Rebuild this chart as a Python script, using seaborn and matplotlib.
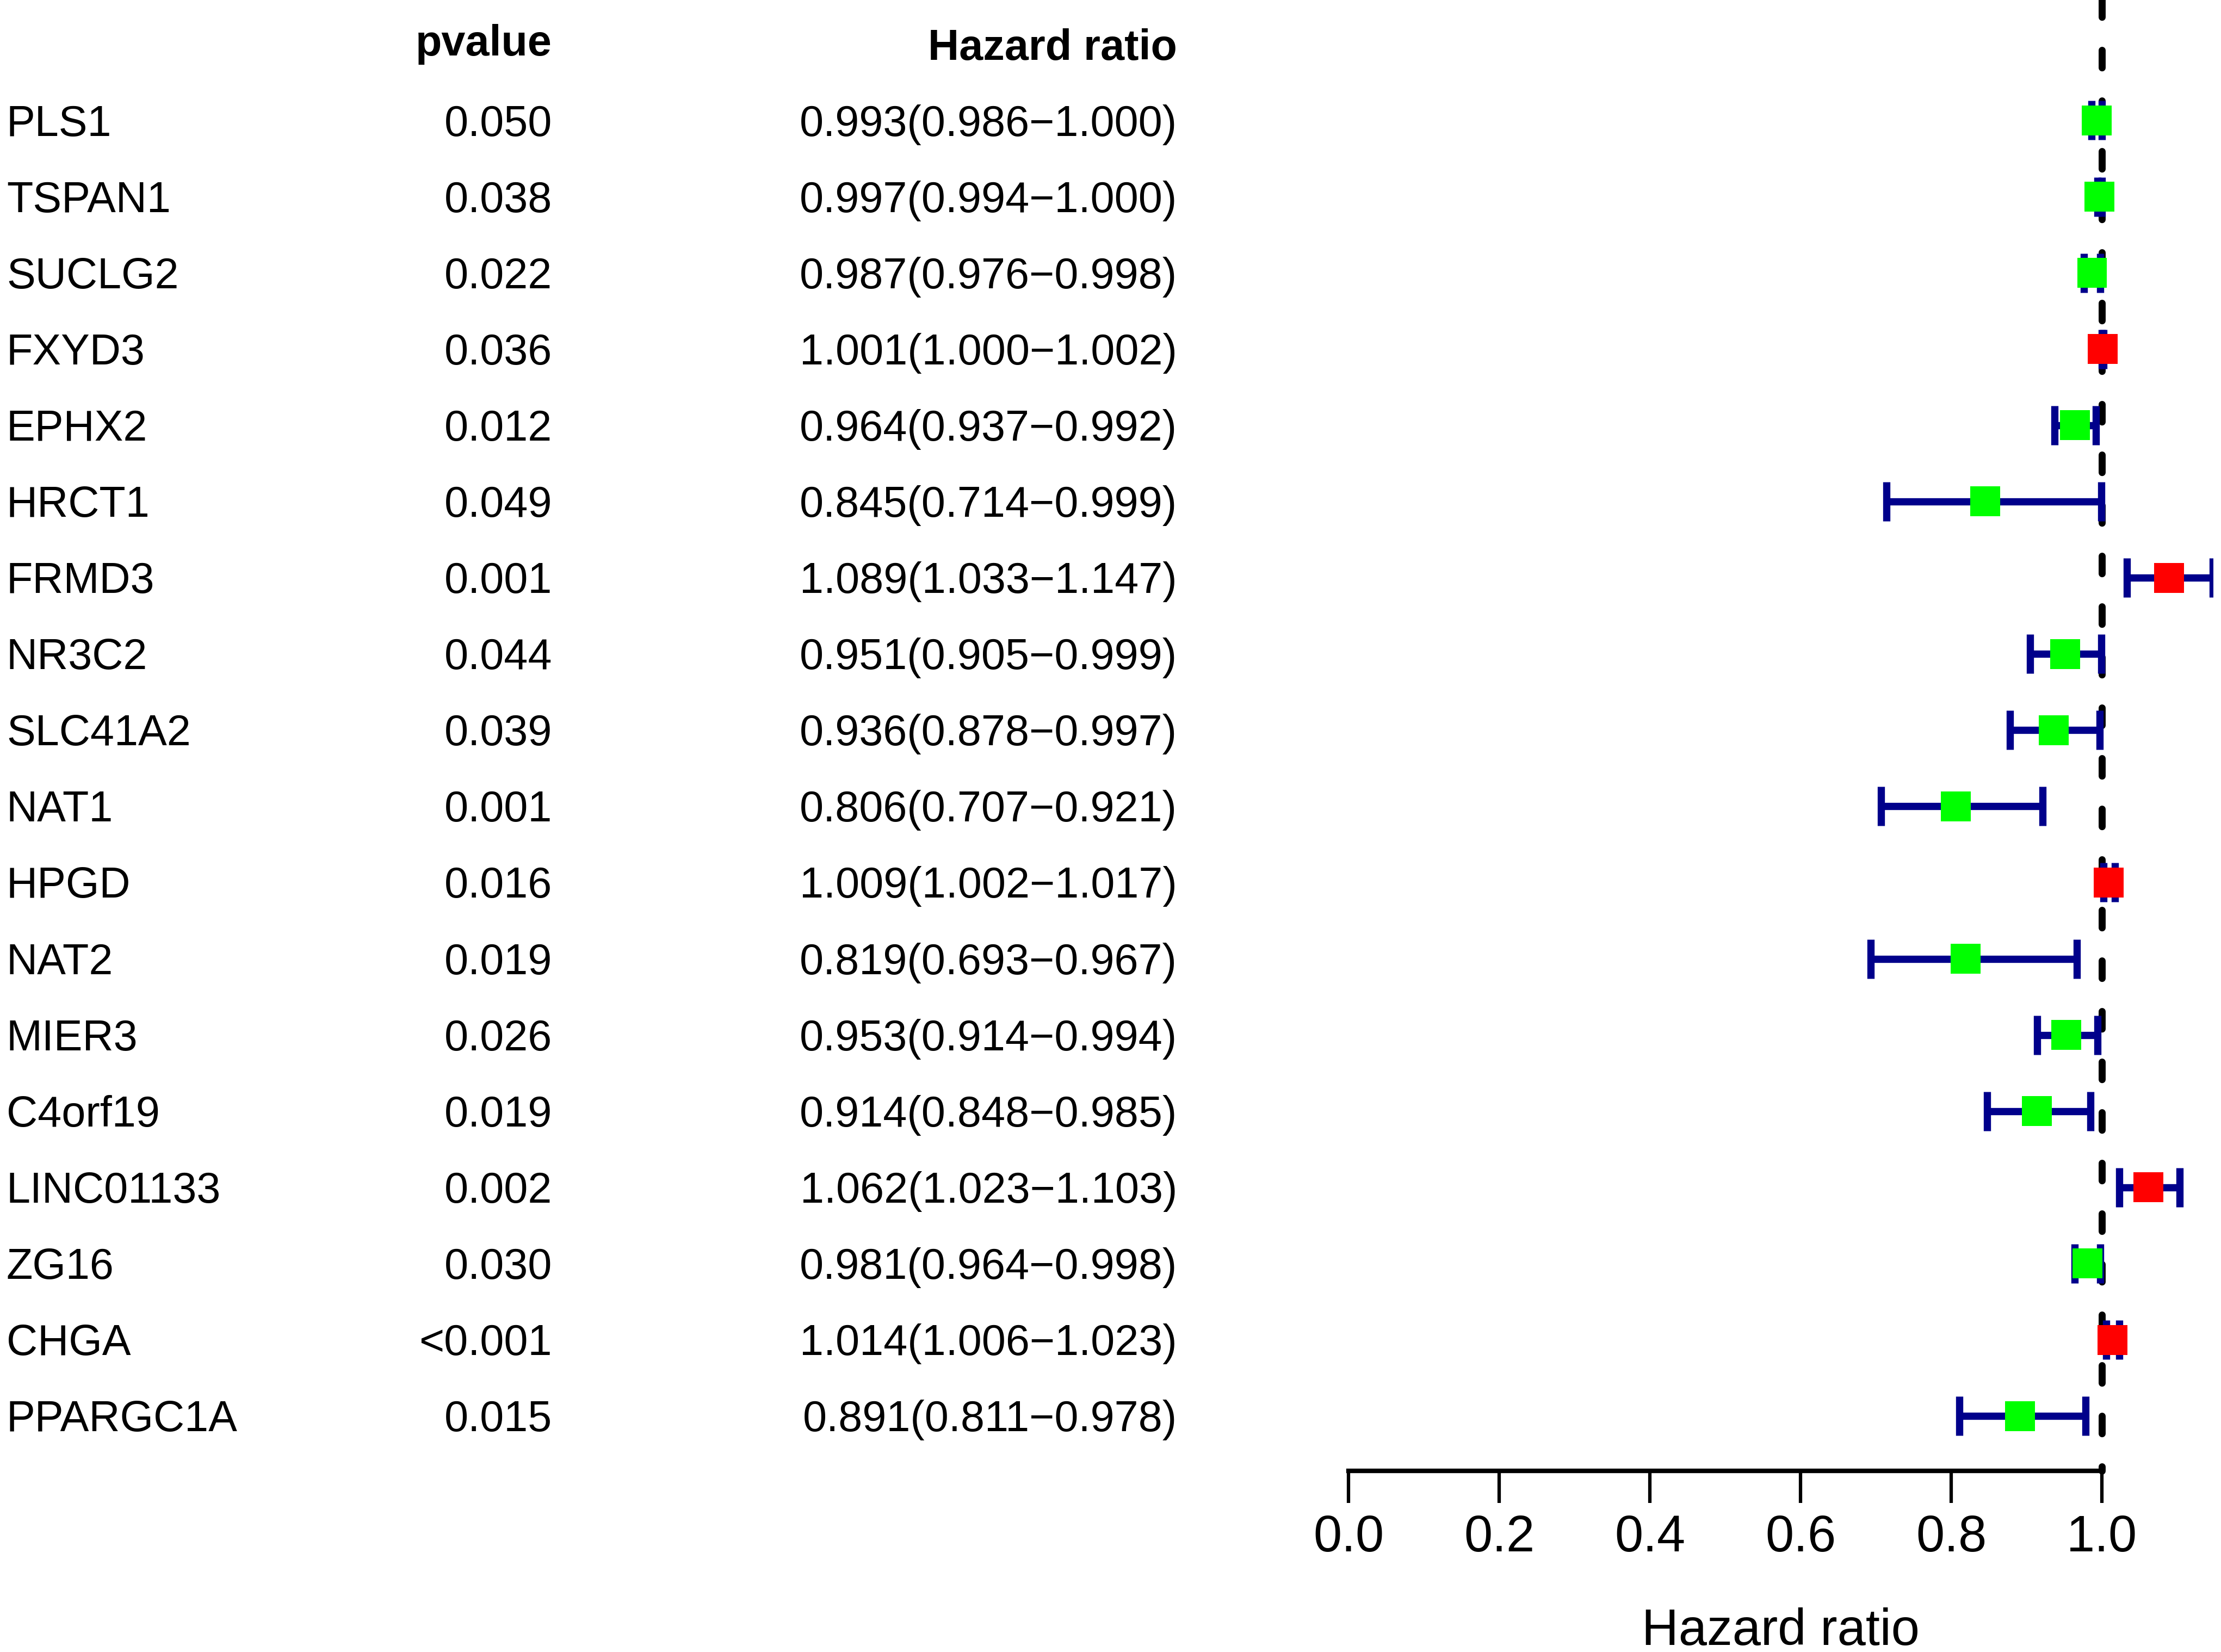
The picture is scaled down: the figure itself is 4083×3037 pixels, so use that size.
import matplotlib
matplotlib.use("Agg")
import matplotlib.pyplot as plt
import matplotlib.transforms as mtransforms
import numpy as np
import pandas as pd
import seaborn as sns

# data
genes = ["PLS1", "TSPAN1", "SUCLG2", "FXYD3", "EPHX2", "HRCT1", "FRMD3", "NR3C2",
         "SLC41A2", "NAT1", "HPGD", "NAT2", "MIER3", "C4orf19", "LINC01133", "ZG16",
         "CHGA", "PPARGC1A"]
pvalues = ["0.050", "0.038", "0.022", "0.036", "0.012", "0.049", "0.001", "0.044",
           "0.039", "0.001", "0.016", "0.019", "0.026", "0.019", "0.002", "0.030",
           "<0.001", "0.015"]
hr = [0.993, 0.997, 0.987, 1.001, 0.964, 0.845, 1.089, 0.951, 0.936, 0.806, 1.009,
      0.819, 0.953, 0.914, 1.062, 0.981, 1.014, 0.891]
hr_low = [0.986, 0.994, 0.976, 1.000, 0.937, 0.714, 1.033, 0.905, 0.878, 0.707, 1.002,
          0.693, 0.914, 0.848, 1.023, 0.964, 1.006, 0.811]
hr_high = [1.000, 1.000, 0.998, 1.002, 0.992, 0.999, 1.147, 0.999, 0.997, 0.921, 1.017,
           0.967, 0.994, 0.985, 1.103, 0.998, 1.023, 0.978]
xticks = [0.0, 0.2, 0.4, 0.6, 0.8, 1.0]

sns.set_style("ticks")
plt.rcParams['font.family'] = ['Liberation Sans', 'DejaVu Sans']
plt.rcParams['text.color'] = 'black'
plt.rcParams['axes.labelcolor'] = 'black'
plt.rcParams['xtick.color'] = 'black'
plt.rcParams['axes.edgecolor'] = 'black'

df = pd.DataFrame({'gene': genes, 'pvalue': pvalues, 'hr': hr,
                   'low': hr_low, 'high': hr_high})
df['row'] = np.arange(1, len(df) + 1)
df['risk'] = np.where(df['hr'] > 1, 'high', 'low')
df['label'] = [f"{h:.3f}({l:.3f}\u2212{u:.3f})" for h, l, u in zip(df.hr, df.low, df.high)]

W, H, DPI = 4083, 3037, 300
fig = plt.figure(figsize=(W / DPI, H / DPI), dpi=DPI)
ax = fig.add_axes([2479 / W, 0, 1588.6 / W, 1])

# reference line at HR = 1
axis_y = 18.72
ax.plot([1, 1], [-0.6, axis_y], color='black', linewidth=3.1,
        linestyle=(0, (2.5, 4.7)), dash_capstyle='round', zorder=1)

ax.errorbar(df['hr'], df['row'], xerr=[df['hr'] - df['low'], df['high'] - df['hr']],
            fmt='none', ecolor='#00008B', elinewidth=3.2, capsize=8.6, capthick=3.2,
            zorder=2)
sns.scatterplot(data=df, x='hr', y='row', hue='risk',
                palette={'high': '#FF0000', 'low': '#00FF00'},
                marker='s', s=174, linewidth=0, legend=False, ax=ax, zorder=3)

ax.set_xlim(0, df['high'].max())
ax.set_ylim(21.097, -0.581)

for s in ['left', 'top', 'right']:
    ax.spines[s].set_visible(False)
ax.spines['bottom'].set_position(('data', axis_y))
ax.spines['bottom'].set_bounds(0, 1)
ax.spines['bottom'].set_linewidth(2)
ax.set_xticks(xticks)
ax.set_xticklabels([f"{t:.1f}" for t in xticks])
ax.set_yticks([])
ax.tick_params(axis='x', direction='out', length=14.2, width=1.5, pad=4.8,
               labelsize=22.5, colors='black', bottom=True)
ax.set_xlabel('Hazard ratio', fontsize=22.5, labelpad=20, color='black')
ax.set_ylabel('')

# table columns on the left
trans = mtransforms.blended_transform_factory(fig.transFigure, ax.transData)
for _, r in df.iterrows():
    y = r['row'] + 0.2
    ax.text(12 / W, y, r['gene'], transform=trans, ha='left', va='baseline', fontsize=19)
    ax.text(1015 / W, y, r['pvalue'], transform=trans, ha='right', va='baseline', fontsize=19)
    ax.text(2164 / W, y, r['label'], transform=trans, ha='right', va='baseline', fontsize=19)
ax.text(1015 / W, 0.147, 'pvalue', transform=trans, ha='right', va='baseline',
        fontsize=19, fontweight='bold')
ax.text(2164 / W, 0.204, 'Hazard ratio', transform=trans, ha='right', va='baseline',
        fontsize=19, fontweight='bold')

fig.savefig('out.png', dpi=DPI)
